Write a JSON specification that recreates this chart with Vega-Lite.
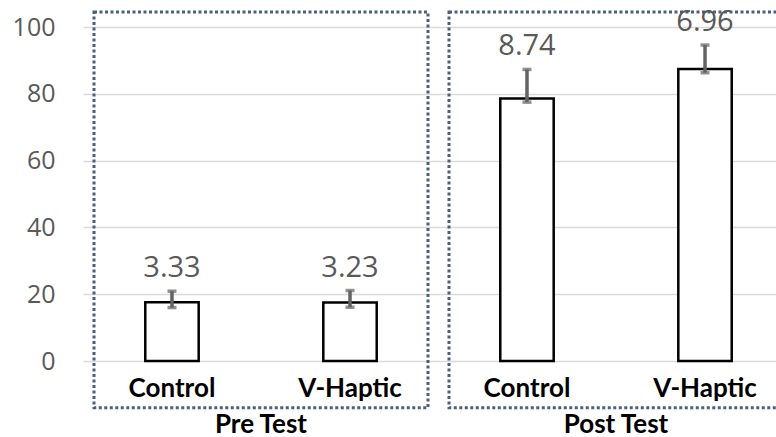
{
  "$schema": "https://vega.github.io/schema/vega-lite/v6.json",
  "width": 711,
  "height": 334,
  "autosize": {"type": "none"},
  "padding": {"left": 83, "top": 27, "right": 0, "bottom": 76},
  "background": "white",
  "datasets": {
    "bars": [
      {"phase": "Pre Test", "group": "Control", "mean": 17.6, "lo": 16.0, "hi": 20.9, "sd": "3.33"},
      {"phase": "Pre Test", "group": "V-Haptic", "mean": 17.5, "lo": 16.1, "hi": 21.1, "sd": "3.23"},
      {"phase": "Post Test", "group": "Control", "mean": 78.6, "lo": 77.5, "hi": 87.3, "sd": "8.74"},
      {"phase": "Post Test", "group": "V-Haptic", "mean": 87.4, "lo": 86.3, "hi": 94.6, "sd": "6.96"}
    ],
    "phases": [
      {"phase": "Pre Test"},
      {"phase": "Post Test"}
    ]
  },
  "config": {
    "view": {"stroke": null},
    "axisX": {
      "title": null, "domain": false, "ticks": false, "tickSize": 0, "grid": false,
      "labelFont": "Lato", "labelFontWeight": "bold", "labelFontSize": 26, "labelColor": "#000000",
      "labelBaseline": "top", "labelPadding": 50, "labelAngle": 0
    },
    "axisY": {
      "title": null, "domain": false, "ticks": false, "tickSize": 0, "grid": true,
      "gridColor": "#d9d9d9", "gridWidth": 1.3,
      "labelFont": "Open Sans", "labelFontSize": 25, "labelColor": "#595959", "labelPadding": 28
    }
  },
  "layer": [
    {
      "data": {"name": "phases"},
      "mark": {"type": "rect", "fill": null, "stroke": "#4a5f7e", "strokeWidth": 3, "strokeDash": [3, 2.5], "clip": false},
      "encoding": {
        "x": {"field": "phase", "type": "nominal", "sort": ["Pre Test", "Post Test"],
              "scale": {"paddingInner": 0.0592, "paddingOuter": 0.031}},
        "y": {"datum": 104.5, "type": "quantitative", "scale": {"domain": [0, 100], "nice": false, "zero": true},
              "axis": {"values": [0, 20, 40, 60, 80, 100]}},
        "y2": {"datum": -14}
      }
    },
    {
      "data": {"name": "bars"},
      "mark": {"type": "bar", "fill": "#ffffff", "stroke": "#000000", "strokeWidth": 2.5},
      "encoding": {
        "x": {"field": "phase", "type": "nominal", "sort": ["Pre Test", "Post Test"]},
        "xOffset": {"field": "group", "type": "nominal", "sort": ["Control", "V-Haptic"],
                    "scale": {"paddingInner": 0.7, "paddingOuter": 0.288}},
        "y": {"field": "mean", "type": "quantitative", "axis": {"values": [0, 20, 40, 60, 80, 100]}}
      }
    },
    {
      "data": {"name": "bars"},
      "mark": {"type": "rule", "color": "#636363", "strokeWidth": 3.5},
      "encoding": {
        "x": {"field": "phase", "type": "nominal", "sort": ["Pre Test", "Post Test"]},
        "xOffset": {"field": "group", "type": "nominal", "sort": ["Control", "V-Haptic"]},
        "y": {"field": "lo", "type": "quantitative"},
        "y2": {"field": "hi"}
      }
    },
    {
      "data": {"name": "bars"},
      "mark": {"type": "tick", "color": "#636363", "size": 9, "thickness": 3.5, "orient": "horizontal"},
      "encoding": {
        "x": {"field": "phase", "type": "nominal", "sort": ["Pre Test", "Post Test"]},
        "xOffset": {"field": "group", "type": "nominal", "sort": ["Control", "V-Haptic"]},
        "y": {"field": "hi", "type": "quantitative"}
      }
    },
    {
      "data": {"name": "bars"},
      "mark": {"type": "tick", "color": "#636363", "size": 9, "thickness": 3.5, "orient": "horizontal"},
      "encoding": {
        "x": {"field": "phase", "type": "nominal", "sort": ["Pre Test", "Post Test"]},
        "xOffset": {"field": "group", "type": "nominal", "sort": ["Control", "V-Haptic"]},
        "y": {"field": "lo", "type": "quantitative"}
      }
    },
    {
      "data": {"name": "bars"},
      "mark": {"type": "text", "font": "Open Sans", "fontSize": 29, "color": "#595959", "baseline": "alphabetic", "dy": -14},
      "encoding": {
        "x": {"field": "phase", "type": "nominal", "sort": ["Pre Test", "Post Test"]},
        "xOffset": {"field": "group", "type": "nominal", "sort": ["Control", "V-Haptic"]},
        "y": {"field": "hi", "type": "quantitative"},
        "text": {"field": "sd"}
      }
    },
    {
      "data": {"name": "bars"},
      "mark": {"type": "text", "font": "Lato", "fontWeight": "bold", "fontSize": 26, "color": "#000000", "baseline": "alphabetic", "dy": 36},
      "encoding": {
        "x": {"field": "phase", "type": "nominal", "sort": ["Pre Test", "Post Test"]},
        "xOffset": {"field": "group", "type": "nominal", "sort": ["Control", "V-Haptic"]},
        "y": {"datum": 0, "type": "quantitative"},
        "text": {"field": "group"}
      }
    }
  ]
}
